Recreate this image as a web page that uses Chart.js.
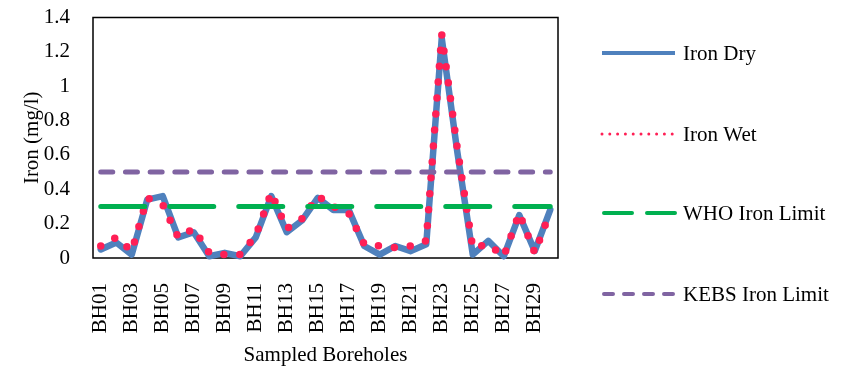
<!DOCTYPE html>
<html><head><meta charset="utf-8">
<script src="https://cdn.jsdelivr.net/npm/chart.js@4"></script>
<style>html,body{margin:0;padding:0;background:#fff}</style>
</head><body>
<canvas id="c" width="847" height="370"></canvas>
<script>
const boreholes = ['BH01','BH02','BH03','BH04','BH05','BH06','BH07','BH08','BH09','BH10',
  'BH11','BH12','BH13','BH14','BH15','BH16','BH17','BH18','BH19','BH20',
  'BH21','BH22','BH23','BH24','BH25','BH26','BH27','BH28','BH29','BH30'];
const ironDry = [0.05,0.09,0.02,0.34,0.36,0.12,0.15,0.01,0.03,0.01,
  0.12,0.36,0.15,0.22,0.35,0.28,0.28,0.07,0.02,0.07,
  0.04,0.08,1.28,0.62,0.02,0.10,0.01,0.25,0.04,0.28];
const ironWet = [0.07,0.12,0.04,0.35,0.31,0.12,0.17,0.03,0.02,0.02,
  0.13,0.38,0.17,0.23,0.36,0.30,0.26,0.08,0.07,0.06,
  0.07,0.10,1.30,0.64,0.06,0.08,0.01,0.26,0.03,0.27];
const whoLimit = [0.3,0.3,0.3,0.3,0.3,0.3,0.3,0.3,0.3,0.3,0.3,0.3,0.3,0.3,0.3,
  0.3,0.3,0.3,0.3,0.3,0.3,0.3,0.3,0.3,0.3,0.3,0.3,0.3,0.3,0.3];
const kebsLimit = [0.5,0.5,0.5,0.5,0.5,0.5,0.5,0.5,0.5,0.5,0.5,0.5,0.5,0.5,0.5,
  0.5,0.5,0.5,0.5,0.5,0.5,0.5,0.5,0.5,0.5,0.5,0.5,0.5,0.5,0.5];
const yTickLabels = ['0','0.2','0.4','0.6','0.8','1','1.2','1.4'];
const seriesNames = ['Iron Dry','Iron Wet','WHO Iron Limit','KEBS Iron Limit'];

const FONT = "'Liberation Serif', 'Times New Roman', serif";
const C_DRY = '#4F81BD', C_WET = '#FF1F55', C_WHO = '#00B050', C_KEBS = '#8064A2';

const framePlugin = {
  id: 'frame',
  beforeDatasetsDraw(chart) {
    const {ctx, chartArea: a} = chart;
    ctx.save();
    ctx.strokeStyle = '#000';
    ctx.lineWidth = 1.5;
    ctx.strokeRect(a.left, a.top, a.right - a.left, a.bottom - a.top);
    ctx.restore();
  }
};

const legendPlugin = {
  id: 'customLegend',
  afterDraw(chart) {
    const ctx = chart.ctx;
    const x0 = 602, x1 = 675, tx = 683;
    const ys = [53, 134, 213, 294];
    const styles = [
      {color: C_DRY, width: 4, dash: [], cap: 'butt'},
      {color: C_WET, width: 3, dash: [0, 7.8], cap: 'round'},
      {color: C_WHO, width: 4, dash: [28, 15], cap: 'round'},
      {color: C_KEBS, width: 4, dash: [9, 11], cap: 'round'}
    ];
    ctx.save();
    styles.forEach((s, i) => {
      const y = ys[i];
      ctx.beginPath();
      ctx.strokeStyle = s.color;
      ctx.lineWidth = s.width;
      ctx.lineCap = s.cap;
      ctx.setLineDash(s.dash);
      const start = s.cap === 'round' && s.dash.length && s.dash[0] > 0 ? x0 + 2 : x0;
      ctx.moveTo(start, y);
      ctx.lineTo(x1, y);
      ctx.stroke();
      ctx.setLineDash([]);
      ctx.fillStyle = '#000';
      ctx.font = '21px ' + FONT;
      ctx.textBaseline = 'middle';
      ctx.textAlign = 'left';
      ctx.fillText(seriesNames[i], tx, y + 1);
    });
    ctx.restore();
  }
};

new Chart(document.getElementById('c'), {
  type: 'line',
  data: {
    labels: boreholes,
    datasets: [
      {label: seriesNames[0], data: ironDry, borderColor: C_DRY, borderWidth: 6.5,
       borderJoinStyle: 'round', borderCapStyle: 'round', pointRadius: 0, order: 4, clip: false},
      {label: seriesNames[1], data: ironWet, borderColor: C_WET, borderWidth: 7.5,
       borderDash: [0, 16], borderCapStyle: 'round', pointRadius: 0, order: 3, clip: false},
      {label: seriesNames[2], data: whoLimit, borderColor: C_WHO, borderWidth: 5,
       borderDash: [44, 25], borderCapStyle: 'round', pointRadius: 0, order: 2, clip: false},
      {label: seriesNames[3], data: kebsLimit, borderColor: C_KEBS, borderWidth: 5,
       borderDash: [12, 12.7], borderCapStyle: 'round', pointRadius: 0, order: 1, clip: false}
    ]
  },
  options: {
    responsive: false,
    animation: false,
    devicePixelRatio: 1,
    layout: {padding: {left: 0, top: 0, right: 289, bottom: 2}},
    plugins: {legend: {display: false}, tooltip: {enabled: false}},
    elements: {line: {tension: 0}, point: {radius: 0}},
    scales: {
      x: {
        type: 'category',
        offset: true,
        afterFit(s) { s.height = 110; },
        grid: {display: false, drawTicks: false},
        border: {display: false},
        ticks: {
          autoSkip: false, minRotation: 90, maxRotation: 90, padding: 25,
          color: '#000', font: {family: FONT, size: 21},
          callback: function(v, i) { return i % 2 === 0 ? boreholes[i] : ''; }
        },
        title: {display: true, text: 'Sampled Boreholes', color: '#000',
          font: {family: FONT, size: 21}, padding: {top: 4, bottom: 0}}
      },
      y: {
        min: 0, max: 1.4,
        afterFit(s) { s.width = 93; s.paddingTop = 17.5; s.paddingBottom = 0; },
        grid: {display: false, drawTicks: false},
        border: {display: false},
        ticks: {
          stepSize: 0.2, padding: 23, color: '#000', font: {family: FONT, size: 21},
          callback: (v, i) => yTickLabels[i]
        },
        title: {display: true, text: 'Iron (mg/l)', color: '#000',
          font: {family: FONT, size: 21}, padding: {top: 20, bottom: 0}}
      }
    }
  },
  plugins: [framePlugin, legendPlugin]
});
</script>
</body></html>
